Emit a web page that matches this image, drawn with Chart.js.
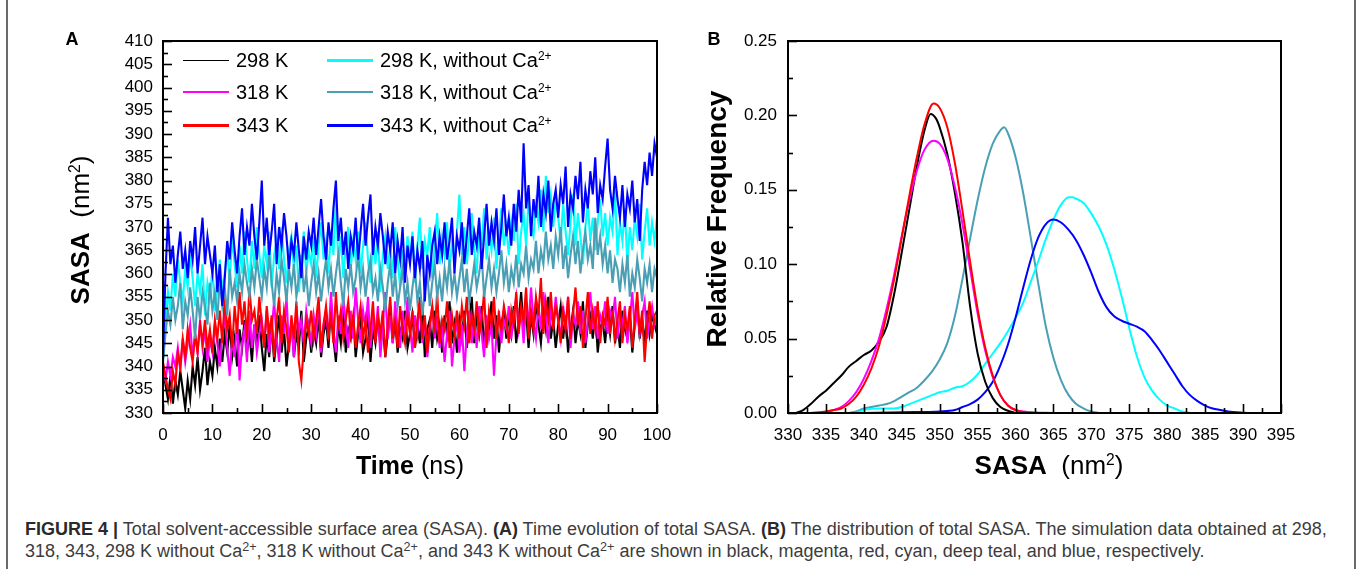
<!DOCTYPE html>
<html>
<head>
<meta charset="utf-8">
<script src="https://cdn.jsdelivr.net/npm/chart.js@4.4.0/dist/chart.umd.min.js"></script>
<style>
html,body{margin:0;padding:0;background:#fff;width:1357px;height:569px;overflow:hidden;font-family:"Liberation Sans",Arial,sans-serif;}
#wrap{position:relative;width:1357px;height:569px;}
canvas{position:absolute;top:0;}
.t{position:absolute;white-space:nowrap;color:#000;line-height:1;}
.c{transform:translate(-50%,-50%);}
.r{transform:translate(-50%,-50%) rotate(-90deg);}
sup{font-size:0.6em;vertical-align:0.55em;line-height:0;}
.leg{position:absolute;white-space:nowrap;font-size:20px;line-height:1;color:#000;transform:translateY(-50%);}
.legline{position:absolute;}
.border{position:absolute;top:0;width:2px;height:569px;background:#6a6a6a;}
#cap{position:absolute;left:25px;top:518px;font-size:18px;line-height:22px;color:#3c3c3c;white-space:nowrap;}
#cap sup{font-size:0.7em;vertical-align:0.5em;}
#cap b{color:#2a2a2a;}
</style>
</head>
<body>
<div id="wrap">
  <div class="border" style="left:6px"></div>
  <div class="border" style="left:1354px"></div>
  <canvas id="cA" width="690" height="490" style="left:0px"></canvas>
  <canvas id="cB" width="667" height="490" style="left:690px"></canvas>

  <div class="t c" style="left:72px;top:39px;font-size:18px;font-weight:bold;">A</div>
  <div class="t c" style="left:714px;top:39px;font-size:18px;font-weight:bold;">B</div>

  <div class="t r" style="left:80px;top:230px;font-size:26px;"><b>SASA</b>&nbsp;&nbsp;(nm<sup>2</sup>)</div>
  <div class="t c" style="left:410px;top:465px;font-size:25px;"><b>Time</b> (ns)</div>
  <div class="t r" style="left:717px;top:219px;font-size:28px;font-weight:bold;">Relative Frequency</div>
  <div class="t c" style="left:1049px;top:465px;font-size:26px;"><b>SASA</b>&nbsp;&nbsp;(nm<sup>2</sup>)</div>

  <div id="legendA"></div>

  <div id="cap"><b>FIGURE 4 |</b> Total solvent-accessible surface area (SASA). <b>(A)</b> Time evolution of total SASA. <b>(B)</b> The distribution of total SASA. The simulation data obtained at 298,<br>318, 343, 298 K without Ca<sup>2+</sup>, 318 K without Ca<sup>2+</sup>, and 343 K without Ca<sup>2+</sup> are shown in black, magenta, red, cyan, deep teal, and blue, respectively.</div>
</div>

<script>
// ---------------- Panel A: time evolution (sampled every 0.5 ns, 0..100 ns) ----------------
const TIME_STEP_NS = 0.5;

const sasa298 = [
340,336,333,338,332,337,334,339,335,331,337,333,340,336,342,335,339,344,336,341,
338,344,340,346,341,347,343,349,342,346,340,348,344,350,343,347,341,349,345,351,
344,339,347,342,349,341,346,351,343,348,340,345,350,342,347,344,352,341,346,349,
343,348,345,351,342,347,350,344,353,346,341,349,345,352,343,348,346,351,342,347,
350,343,346,352,341,348,345,351,344,349,342,347,353,345,350,343,348,346,352,344,
347,351,344,349,345,353,342,348,350,344,352,346,349,343,351,347,354,345,349,343,
350,346,352,344,349,355,345,351,347,353,344,350,348,354,346,351,343,349,352,346,
351,347,353,345,350,356,348,352,344,351,347,354,349,345,352,348,355,346,350,344,
349,353,346,351,343,348,352,345,350,347,354,344,349,351,346,352,343,348,350,345,
351,347,353,345,349,344,352,348,346,351,343,349,354,346,350,345,352,347,351,349,
347];

const sasa318 = [
339,337,341,338,342,340,344,339,346,341,345,349,342,347,343,350,344,348,341,346,
343,349,345,340,347,351,344,338,346,342,350,337,345,348,341,352,344,349,343,347,
350,345,352,343,348,354,346,341,351,347,355,344,349,342,353,347,350,345,352,348,
345,351,347,354,343,349,352,346,356,348,343,351,347,355,349,344,352,346,357,350,
345,352,348,355,344,350,347,353,342,349,356,346,351,345,354,348,344,352,347,355,
349,343,351,347,354,345,350,342,348,353,346,351,344,349,341,347,352,340,346,350,
343,349,339,347,352,345,350,344,353,347,342,351,346,349,338,347,352,345,350,348,
353,346,351,355,348,352,345,354,349,357,350,346,353,348,356,351,345,352,349,355,
350,346,353,348,355,344,351,349,354,347,352,345,350,356,348,353,346,351,349,354,
347,352,350,355,346,351,349,353,345,350,356,348,352,347,351,354,346,350,353,349,
351];

const sasa343 = [
341,338,335,333,339,336,343,340,346,342,348,344,341,347,343,349,345,350,344,348,
343,350,346,352,345,355,348,351,344,353,347,356,349,354,346,357,350,352,347,355,
349,344,353,347,351,342,350,355,345,352,348,343,351,346,354,341,337,344,350,347,
352,346,350,355,344,349,353,347,351,345,356,348,352,346,350,354,347,351,344,349,
353,346,350,343,348,354,345,351,347,352,342,349,355,346,350,344,353,348,345,351,
347,352,344,350,355,346,351,343,349,353,347,356,345,350,348,354,344,351,347,352,
346,353,349,355,345,351,348,354,347,350,356,344,352,349,355,346,351,348,353,350,
345,352,349,356,347,353,350,357,346,352,348,355,351,359,347,354,350,356,348,353,
350,345,352,348,355,346,351,357,349,353,344,350,356,347,352,348,354,345,351,349,
355,347,352,346,350,354,345,351,348,353,344,350,356,347,352,341,349,354,346,351,
352];

const sasa298NoCa = [
341,350,356,352,360,355,363,358,354,361,357,364,359,353,360,356,362,351,358,355,
361,352,357,363,356,360,365,358,368,362,357,366,360,369,363,358,367,361,370,364,
359,366,362,369,357,364,367,361,370,363,358,365,368,361,366,356,363,369,360,365,
362,368,359,366,371,363,367,360,369,364,376,362,368,359,366,370,361,367,363,369,
360,366,371,363,358,367,362,369,356,364,368,361,366,359,370,363,357,365,361,368,
363,369,358,366,372,361,367,364,370,359,366,373,362,368,364,371,360,367,363,369,
377,364,370,362,368,373,365,360,371,366,374,363,369,365,372,361,368,374,366,370,
364,371,367,375,362,369,373,366,376,370,368,375,371,378,369,381,373,377,370,376,
372,367,375,369,364,371,377,366,373,368,362,370,375,367,372,365,371,376,368,373,
366,372,369,378,364,371,367,374,362,370,365,372,368,375,363,369,374,366,371,367,
372];

const sasa318NoCa = [
341,347,352,349,355,350,353,358,348,354,351,357,352,346,355,350,356,353,349,358,
352,356,350,359,353,357,351,361,355,358,354,360,356,362,358,355,361,357,363,359,
355,361,357,364,358,353,360,356,363,359,354,361,357,362,355,359,364,356,360,353,
358,362,356,360,354,359,363,357,361,355,360,364,358,353,361,357,362,356,359,364,
357,361,355,360,363,356,359,354,361,357,352,358,362,355,360,353,357,361,354,358,
352,357,361,354,358,351,356,360,353,358,362,355,359,354,361,357,363,356,360,355,
359,363,356,361,354,358,362,357,360,364,355,359,363,357,361,356,360,365,358,362,
356,361,358,364,357,362,360,366,359,363,361,367,360,365,362,369,363,366,361,368,
364,370,361,366,359,364,368,362,367,360,365,369,363,366,361,372,364,368,362,366,
360,365,358,363,361,356,362,358,364,355,360,357,363,359,354,361,358,362,356,361,
359];

const sasa343NoCa = [
342,360,372,362,366,358,364,369,361,365,359,367,363,370,360,366,372,362,368,364,
360,366,356,362,353,359,367,363,371,365,360,368,374,364,370,366,375,368,363,371,
380,366,372,364,369,375,362,370,366,373,368,361,367,364,371,365,359,368,363,369,
366,372,364,370,376,368,363,371,366,374,380,367,372,364,369,361,368,365,372,363,
369,375,366,372,377,364,370,366,373,368,362,369,365,371,360,367,363,370,358,366,
362,368,359,365,361,367,354,364,360,366,369,362,368,364,371,363,367,372,360,368,
365,371,362,368,374,364,369,366,372,361,368,375,366,371,367,374,364,370,377,368,
372,366,375,369,378,371,388,374,379,368,376,372,381,370,377,373,380,369,375,378,
372,379,375,383,370,377,374,381,376,384,371,378,374,382,377,385,373,379,376,383,
389,378,374,381,376,372,379,370,377,374,380,371,376,367,378,384,379,386,381,388,
385];

// ---------------- Panel B: distributions ----------------
const dist298X = [331,332,333,334,335,336,337,338,339,340,341,342,343,344,345,346,347,348,348.8,349.5,350,351,352,353,354,355,356,357,358,359,360];
const dist298Y = [0,0.002,0.006,0.011,0.015,0.02,0.025,0.031,0.035,0.039,0.042,0.048,0.058,0.08,0.108,0.137,0.166,0.19,0.201,0.198,0.192,0.174,0.148,0.115,0.072,0.04,0.021,0.01,0.004,0.0015,0];

const dist318X = [335,336,337,338,339,340,341,342,343,344,345,346,347,348,349.2,350,351,352,353,354,355,356,357,358,359,360,362,365];
const dist318Y = [0,0.002,0.004,0.008,0.014,0.023,0.035,0.05,0.07,0.093,0.119,0.143,0.163,0.177,0.183,0.181,0.171,0.152,0.127,0.097,0.067,0.042,0.024,0.012,0.005,0.002,0.0005,0];

const dist343X = [333,335,336,337,338,339,340,341,342,343,344,345,346,347,348,349.2,350,351,352,353,354,355,356,357,358,359,360,361,363];
const dist343Y = [0,0.001,0.002,0.003,0.006,0.011,0.019,0.03,0.045,0.066,0.09,0.118,0.146,0.172,0.194,0.208,0.205,0.192,0.168,0.136,0.102,0.07,0.044,0.025,0.012,0.005,0.002,0.0007,0];

const dist298NoCaX = [339,340,342,344,345,346,347,348,349,350,351,352,353,354,355,356,357,358,359,360,361,362,363,364,365,366,367,367.5,368,369,370,371,372,373,374,375,376,377,378,379,380,381,382,383];
const dist298NoCaY = [0,0.002,0.003,0.003,0.004,0.006,0.008,0.01,0.012,0.014,0.015,0.017,0.018,0.021,0.026,0.033,0.04,0.047,0.055,0.064,0.074,0.088,0.102,0.117,0.13,0.14,0.145,0.145,0.144,0.141,0.134,0.125,0.113,0.097,0.078,0.057,0.038,0.024,0.015,0.009,0.005,0.003,0.001,0];

const dist318NoCaX = [338,339,340,341,342,343,344,345,346,347,348,349,350,351,352,353,354,355,356,357,358,358.5,359,360,361,362,363,364,365,366,367,368,369,370,371];
const dist318NoCaY = [0,0.001,0.003,0.004,0.005,0.006,0.008,0.011,0.014,0.017,0.022,0.028,0.036,0.047,0.065,0.09,0.117,0.143,0.165,0.181,0.19,0.192,0.188,0.172,0.148,0.118,0.087,0.058,0.037,0.022,0.012,0.006,0.003,0.001,0];

const dist343NoCaX = [340,345,350,352,353,354,355,356,357,358,359,360,361,362,363,364,365,366,367,368,369,370,371,372,373,374,375,376,377,378,379,380,381,382,383,384,385,386,387,388,390,391];
const dist343NoCaY = [0,0.0005,0.001,0.002,0.004,0.006,0.009,0.014,0.021,0.032,0.046,0.064,0.084,0.103,0.118,0.127,0.13,0.128,0.123,0.116,0.106,0.094,0.081,0.071,0.065,0.062,0.06,0.058,0.055,0.049,0.042,0.034,0.026,0.018,0.012,0.008,0.005,0.003,0.002,0.001,0.0002,0];

// ---------------- series meta ----------------
const seriesLabels = ['298 K','318 K','343 K','298 K, without Ca2+','318 K, without Ca2+','343 K, without Ca2+'];
const seriesColors = ['#000000','#ff00ff','#ff0000','#00ffff','#4a9fb4','#0000ff'];
const drawOrder    = [5,4,3,2,1,0];   // lower = drawn on top

const timeSeries = [sasa298, sasa318, sasa343, sasa298NoCa, sasa318NoCa, sasa343NoCa];
const distX = [dist298X, dist318X, dist343X, dist298NoCaX, dist318NoCaX, dist343NoCaX];
const distY = [dist298Y, dist318Y, dist343Y, dist298NoCaY, dist318NoCaY, dist343NoCaY];

// ---------------- plugin: framed box with inward major/minor ticks ----------------
const frameTicks = {
  id: 'frameTicks',
  afterDatasetsDraw(chart, args, opts) {
    const {ctx, chartArea: a, scales} = chart;
    ctx.save();
    ctx.strokeStyle = '#000';
    ctx.lineWidth = 1.6;
    for (const key of ['x', 'y']) {
      const s = scales[key], o = opts[key];
      const n = Math.round((s.max - s.min) / o.minor);
      for (let i = 0; i <= n; i++) {
        const v = s.min + i * o.minor;
        const r = v / o.major;
        const isMajor = Math.abs(r - Math.round(r)) < 1e-6;
        const len = isMajor ? o.majorLen : o.minorLen;
        const p = Math.round(s.getPixelForValue(v)) + 0.5;
        ctx.beginPath();
        if (key === 'x') { ctx.moveTo(p, a.bottom); ctx.lineTo(p, a.bottom - len); }
        else { ctx.moveTo(a.left, p); ctx.lineTo(a.left + len, p); }
        ctx.stroke();
      }
    }
    ctx.lineWidth = 2;
    ctx.strokeRect(a.left, a.top, a.right - a.left, a.bottom - a.top);
    ctx.restore();
  }
};

const tickFont = {family: '"Liberation Sans", Arial, sans-serif', size: 17};

// ---------------- Chart A ----------------
new Chart(document.getElementById('cA'), {
  type: 'line',
  data: {
    datasets: timeSeries.map((vals, k) => ({
      label: seriesLabels[k],
      data: vals.map((v, i) => ({x: i * TIME_STEP_NS, y: v})),
      borderColor: seriesColors[k],
      borderWidth: 2.1,
      pointRadius: 0,
      tension: 0,
      borderJoinStyle: 'miter',
      order: drawOrder[k]
    }))
  },
  options: {
    responsive: false, animation: false, devicePixelRatio: 1,
    layout: {padding: {top: 41, right: 33, left: 0, bottom: 0}},
    plugins: {
      legend: {display: false}, tooltip: {enabled: false},
      frameTicks: {x: {major: 10, minor: 5, majorLen: 9, minorLen: 5},
                   y: {major: 5, minor: 2.5, majorLen: 9, minorLen: 5}}
    },
    scales: {
      x: {type: 'linear', min: 0, max: 100,
          grid: {display: false, drawTicks: false}, border: {display: false},
          ticks: {stepSize: 10, autoSkip: false, color: '#000', font: tickFont, padding: 12, maxRotation: 0},
          afterFit(s) { s.height = 77; }},
      y: {type: 'linear', min: 330, max: 410,
          grid: {display: false, drawTicks: false}, border: {display: false},
          ticks: {stepSize: 5, autoSkip: false, color: '#000', font: tickFont, padding: 10},
          afterFit(s) { s.width = 163; }}
    }
  },
  plugins: [frameTicks]
});

// ---------------- Chart B ----------------
new Chart(document.getElementById('cB'), {
  type: 'line',
  data: {
    datasets: distX.map((xs, k) => ({
      label: seriesLabels[k],
      data: xs.map((x, i) => ({x: x, y: distY[k][i]})),
      borderColor: seriesColors[k],
      borderWidth: 2,
      pointRadius: 0,
      cubicInterpolationMode: 'monotone',
      order: [2,1,0,4,5,3][k]
    }))
  },
  options: {
    responsive: false, animation: false, devicePixelRatio: 1,
    layout: {padding: {top: 41, right: 76, left: 0, bottom: 0}},
    plugins: {
      legend: {display: false}, tooltip: {enabled: false},
      frameTicks: {x: {major: 5, minor: 2.5, majorLen: 9, minorLen: 5},
                   y: {major: 0.05, minor: 0.025, majorLen: 9, minorLen: 5}}
    },
    scales: {
      x: {type: 'linear', min: 330, max: 395,
          grid: {display: false, drawTicks: false}, border: {display: false},
          ticks: {stepSize: 5, autoSkip: false, color: '#000', font: tickFont, padding: 12, maxRotation: 0},
          afterFit(s) { s.height = 77; }},
      y: {type: 'linear', min: 0, max: 0.25,
          grid: {display: false, drawTicks: false}, border: {display: false},
          ticks: {stepSize: 0.05, autoSkip: false, color: '#000', font: tickFont, padding: 11,
                  callback: v => Number(v).toFixed(2)},
          afterFit(s) { s.width = 98; }}
    }
  },
  plugins: [frameTicks]
});

// ---------------- Legend for panel A (2 columns x 3 rows) ----------------
const legendRowsY = [60, 92, 125];
const legendColX = [183, 327];
const legendLineW = [1, 1.5, 3, 3, 1.5, 3];
const legendHTML = [
  '298 K', '318 K', '343 K',
  '298 K, without Ca<sup>2+</sup>', '318 K, without Ca<sup>2+</sup>', '343 K, without Ca<sup>2+</sup>'
];
const lg = document.getElementById('legendA');
legendHTML.forEach((txt, k) => {
  const col = k < 3 ? 0 : 1, row = k % 3;
  const y = legendRowsY[row], x0 = legendColX[col];
  const line = document.createElement('div');
  line.className = 'legline';
  line.style.cssText = `left:${x0}px;top:${y - legendLineW[k] / 2}px;width:46px;height:${legendLineW[k]}px;background:${seriesColors[k]};`;
  lg.appendChild(line);
  const t = document.createElement('div');
  t.className = 'leg';
  t.style.left = (x0 + 53) + 'px';
  t.style.top = y + 'px';
  t.innerHTML = txt;
  lg.appendChild(t);
});
</script>
</body>
</html>
